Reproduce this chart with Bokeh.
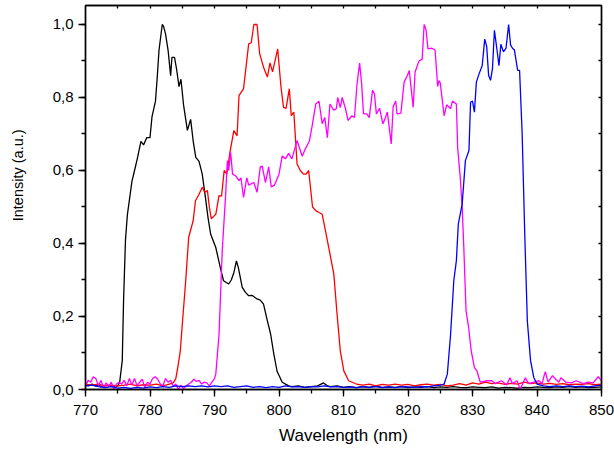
from bokeh.plotting import figure
from bokeh.models import Range1d, CustomJSTickFormatter, SingleIntervalTicker, FixedTicker, LinearAxis
from bokeh.embed import file_html
from bokeh.resources import INLINE

# ---------------- data ----------------
x_min, x_max = 770, 850
y_min, y_max = 0, 1.052
x_ticks_interval = 10
y_ticks_interval = 0.2
top_minor_ticks = [775, 780, 785, 790, 795, 800, 805, 810, 815, 820, 825, 830, 835, 840, 845]
right_minor_ticks = [0.1, 0.2, 0.3, 0.4, 0.5, 0.6, 0.7, 0.8, 0.9, 1.0]

black_wl = [770, 770.5, 771, 771.5, 772, 772.5, 773, 773.5, 774, 774.5, 775, 775.3, 775.7, 775.9,
            776.2, 776.5, 777.2, 777.6, 778.0, 778.3, 778.6, 779.0, 779.5, 780.0, 780.3, 780.85,
            781.1, 781.4, 781.9, 782.1, 782.4, 782.8, 783.2, 783.4, 783.8, 784.1, 784.5, 784.8,
            785.2, 785.8, 786.3, 786.7, 787.1, 787.6, 788.1, 788.6, 789.0, 789.4, 790.2, 790.9,
            791.4, 792.2, 792.6, 793.0, 793.4, 793.7, 794.3, 794.8, 795.3, 795.8, 796.6, 797.1,
            797.6, 798.2, 798.7, 799.2, 799.7, 800.5, 801.5, 802, 803, 804, 805, 806, 806.9, 807.5,
            808, 809, 810, 811, 812, 813, 814, 815, 816, 817, 818, 819, 820, 821, 822, 823, 824,
            825, 826, 827, 828, 829, 830, 831, 832, 833, 834, 835, 836, 837, 838, 839, 840, 841,
            842, 843, 844, 845, 846, 847, 848, 849, 850]
black_val = [0.012, 0.01, 0.015, 0.01, 0.012, 0.008, 0.01, 0.012, 0.01, 0.008, 0.01, 0.02, 0.079, 0.243,
             0.41, 0.48, 0.57, 0.6, 0.63, 0.655, 0.68, 0.67, 0.69, 0.69, 0.746, 0.79,
             0.85, 0.93, 1.0, 0.995, 0.975, 0.93, 0.86, 0.91, 0.91, 0.88, 0.83, 0.85,
             0.78, 0.71, 0.74, 0.68, 0.636, 0.625, 0.59, 0.525, 0.47, 0.426, 0.389, 0.334,
             0.298, 0.289, 0.3, 0.32, 0.352, 0.334, 0.28, 0.266, 0.257, 0.258, 0.248, 0.245,
             0.234, 0.188, 0.152, 0.097, 0.05, 0.02, 0.01, 0.008, 0.01, 0.006, 0.008, 0.01, 0.018, 0.01,
             0.008, 0.01, 0.006, 0.008, 0.005, 0.008, 0.006, 0.009, 0.005, 0.007, 0.006, 0.008, 0.005, 0.007,
             0.006, 0.008, 0.005, 0.007, 0.006, 0.008, 0.006, 0.005, 0.007, 0.006, 0.005, 0.007, 0.004,
             0.006, 0.005, 0.004, 0.006, 0.005, 0.007, 0.006, 0.005, 0.007, 0.006, 0.008, 0.006, 0.007,
             0.005, 0.006, 0.007]

red_wl = [770, 771, 772, 773, 774, 775, 776, 777, 778, 779, 780, 781, 782, 783, 783.6, 784.0, 784.3,
          784.7, 785.1, 785.5, 786.0, 786.7, 787.05, 787.6, 788.1, 788.5, 788.9, 789.2, 789.5, 790.2,
          790.7, 791.1, 791.5, 791.9, 792.4, 793.0, 793.5, 793.8, 794.5, 795.3, 795.7, 796.1, 796.6,
          797.0, 797.6, 798.2, 798.6, 799.0, 799.8, 800.3, 800.7, 801.1, 801.6, 801.9, 802.3, 802.8,
          803.3, 803.8, 804.2, 804.6, 805.2, 805.7, 806.2, 806.7, 807.2, 807.7, 808.5, 809.0, 809.5,
          810.05, 810.8, 812, 813, 814, 815, 816, 817, 818, 819, 820, 821, 822, 823, 824, 825, 826,
          827, 828, 829, 830, 831, 832, 833, 834, 835, 836, 837, 838, 839, 840, 841, 842, 843, 844,
          845, 846, 847, 848, 849, 850]
red_val = [0.015, 0.012, 0.015, 0.01, 0.012, 0.01, 0.012, 0.015, 0.01, 0.013, 0.012, 0.015, 0.01, 0.015,
           0.018, 0.03, 0.06, 0.106, 0.2, 0.289, 0.417, 0.463, 0.517, 0.535, 0.554, 0.54, 0.545, 0.5,
           0.468, 0.48, 0.531, 0.53, 0.6, 0.59, 0.65, 0.709, 0.695, 0.805, 0.824, 0.947, 0.95, 1.0, 1.0,
           0.92, 0.883, 0.856, 0.895, 0.87, 0.933, 0.83, 0.773, 0.77, 0.824, 0.75, 0.76, 0.618,
           0.6, 0.59, 0.59, 0.6, 0.5, 0.49, 0.485, 0.48, 0.435, 0.39, 0.316, 0.207, 0.106,
           0.051, 0.024, 0.015, 0.012, 0.015, 0.01, 0.014, 0.012, 0.015, 0.012, 0.014, 0.01, 0.013,
           0.015, 0.012, 0.014, 0.01, 0.012, 0.016, 0.012, 0.018, 0.015, 0.02, 0.016, 0.018, 0.014,
           0.017, 0.015, 0.02, 0.016, 0.018, 0.015, 0.017, 0.014, 0.016, 0.013, 0.015, 0.014, 0.016,
           0.013, 0.015]

magenta_wl = [770.0, 770.4, 770.8, 771.2, 771.6, 772.0, 772.4, 772.8, 773.2, 773.6, 774.0, 774.4, 774.8,
              775.2, 775.6, 776.0, 776.4, 776.8, 777.2, 777.6, 778.0, 778.4, 778.8, 779.2, 779.6, 780.0,
              780.4, 780.8, 781.2, 781.6, 782.0, 782.4, 782.8, 783.2, 783.6, 784.0, 784.4, 784.8, 785.2,
              785.6, 786.0, 786.4, 786.8, 787.2, 787.6, 788.0, 788.4, 788.8, 789.2, 789.6, 790.0, 790.2,
              790.7, 791.2, 791.7, 792.0, 792.2, 792.5, 792.8, 793.3, 793.8, 794.1, 794.5, 795.0, 795.3,
              796.1, 796.6, 797.1, 797.4, 797.9, 798.4, 798.8, 799.3, 800.0, 800.5, 801.0, 801.5, 802.0,
              802.8, 803.6, 804.1, 804.7, 805.1, 805.7, 806.2, 806.7, 807.1, 807.5, 807.9, 808.5, 808.9,
              809.1, 809.5, 809.8, 810.3, 810.7, 811.3, 811.7, 812.1, 812.5, 812.8, 813.1, 813.6, 814.0,
              814.5, 814.8, 815.1, 815.6, 816.1, 816.4, 816.8, 817.4, 817.7, 818.1, 818.3, 818.9, 819.4,
              819.9, 820.2, 820.8, 821.1, 821.7, 822.2, 822.5, 822.8, 823.1, 823.7, 824.2, 824.6, 824.8,
              825.0, 825.6, 826.0, 826.6, 826.9, 827.5, 827.7, 828.1, 828.4, 828.65, 829.0, 829.4, 829.8,
              830.3, 830.7, 831.2, 832.3, 833.0, 833.5, 834.5, 835.3, 835.8, 836.2, 836.9, 837.4, 838.2,
              838.7, 839.5, 840.3, 840.8, 841.1, 841.3, 841.7, 842.4, 842.9, 843.4, 843.7, 844.5, 845.3,
              846.1, 847.2, 847.9, 848.7, 849.5, 850.0]
magenta_val = [0.01, 0.025, 0.02, 0.035, 0.03, 0.01, 0.025, 0.005, 0.018, 0.008, 0.02, 0.0, 0.015,
               0.02, 0.015, 0.025, 0.01, 0.03, 0.012, 0.03, 0.01, 0.02, 0.028, 0.005, 0.02, 0.015,
               0.03, 0.035, 0.028, 0.015, 0.01, 0.03, 0.02, 0.025, 0.008, 0.015, 0.0, 0.012, 0.002,
               0.01, 0.015, 0.02, 0.028, 0.022, 0.025, 0.015, 0.02, 0.018, 0.01, 0.02, 0.03, 0.042,
               0.15, 0.38, 0.526, 0.627, 0.6, 0.65, 0.59, 0.585, 0.572, 0.58, 0.526, 0.58, 0.56,
               0.567, 0.54, 0.61, 0.612, 0.567, 0.61, 0.555, 0.56, 0.59, 0.64, 0.632, 0.647, 0.632,
               0.682, 0.639, 0.66, 0.68, 0.718, 0.782, 0.79, 0.728, 0.745, 0.69, 0.782, 0.765, 0.77,
               0.80, 0.772, 0.80, 0.77, 0.737, 0.75, 0.745, 0.837, 0.894, 0.84, 0.755, 0.755, 0.745,
               0.82, 0.81, 0.755, 0.77, 0.728, 0.74, 0.76, 0.673, 0.775, 0.79, 0.755, 0.757, 0.842,
               0.86, 0.874, 0.773, 0.87, 0.9, 0.905, 1.0, 0.985, 0.933, 0.935, 0.93, 0.83, 0.846,
               0.84, 0.75, 0.78, 0.769, 0.79, 0.782, 0.663, 0.581, 0.5, 0.39, 0.216, 0.17, 0.106,
               0.06, 0.05, 0.02, 0.024, 0.024, 0.016, 0.024, 0.012, 0.032, 0.016, 0.024, 0.001, 0.032,
               0.016, 0.02, 0.024, 0.016, 0.038, 0.049, 0.02, 0.038, 0.028, 0.02, 0.032, 0.02, 0.018,
               0.024, 0.016, 0.02, 0.018, 0.035, 0.024]

blue_wl = [770, 771, 772, 773, 774, 775, 776, 777, 778, 779, 780, 781, 782, 783, 784, 785, 786, 787,
           788, 789, 790, 791, 792, 793, 794, 795, 796, 797, 798, 799, 800, 801, 802, 803, 804, 805,
           806, 807, 808, 809, 810, 811, 812, 813, 814, 815, 816, 817, 818, 819, 820, 821, 822, 823,
           824, 825, 825.6, 826.1, 826.6, 827.1, 827.5, 827.8, 828.4, 828.9, 829.45, 829.7, 830.0,
           830.3, 830.6, 831.0, 831.5, 831.9, 832.2, 832.5, 832.8, 833.1, 833.4, 833.8, 834.1, 834.4,
           834.8, 835.2, 835.6, 835.9, 836.2, 836.5, 837.0, 837.3, 837.7, 838.1, 838.5, 839.0, 839.5,
           840.0, 841, 842, 843, 844, 845, 846, 847, 848, 849, 850]
blue_val = [0.01, 0.012, 0.008, 0.005, 0.008, 0.004, 0.006, 0.003, 0.006, 0.004, 0.007, 0.005, 0.008,
            0.006, 0.01, 0.008, 0.01, 0.008, 0.01, 0.007, 0.01, 0.008, 0.01, 0.006, 0.008, 0.01, 0.006,
            0.008, 0.005, 0.008, 0.006, 0.01, 0.007, 0.008, 0.006, 0.008, 0.007, 0.01, 0.007, 0.008,
            0.006, 0.007, 0.005, 0.008, 0.006, 0.008, 0.006, 0.007, 0.005, 0.008, 0.007, 0.006, 0.008,
            0.007, 0.01, 0.012, 0.015, 0.042, 0.15, 0.298, 0.353, 0.453, 0.508, 0.627, 0.655, 0.787,
            0.79, 0.76, 0.842, 0.864, 0.887, 0.96, 0.94, 0.86, 0.847, 0.88, 0.984, 0.93, 0.887, 0.946,
            0.925, 0.935, 1.0, 0.944, 0.935, 0.93, 0.874, 0.874, 0.7, 0.426, 0.188, 0.079, 0.033,
            0.015, 0.01, 0.008, 0.01, 0.008, 0.01, 0.008, 0.009, 0.007, 0.01, 0.012]

# ---------------- figure ----------------
FONT = "Liberation Sans"

p = figure(frame_width=516, frame_height=384,
           x_range=Range1d(x_min, x_max), y_range=Range1d(y_min, y_max),
           output_backend="svg", toolbar_location=None,
           min_border_left=85, min_border_top=5, min_border_right=13, min_border_bottom=0)
p.grid.visible = False
p.outline_line_color = "black"
p.outline_line_width = 1.3

# keep handles on the main (bottom / left) axes before extra axes are added
xa = p.below[0]
ya = p.left[0]

series = [(black_wl, black_val, "black"), (red_wl, red_val, "#ff0000"),
          (magenta_wl, magenta_val, "#ff00ff"), (blue_wl, blue_val, "#0000ff")]
for wl, val, col in series:
    p.line(wl, val, line_color=col, line_width=1.3)

xa.ticker = SingleIntervalTicker(interval=x_ticks_interval, num_minor_ticks=2)
ya.ticker = SingleIntervalTicker(interval=y_ticks_interval, num_minor_ticks=2)
ya.formatter = CustomJSTickFormatter(code="return tick.toFixed(1).replace('.', ',');")

for ax in (xa, ya):
    ax.axis_line_color = "black"
    ax.axis_line_width = 1.5
    ax.major_tick_line_color = "black"
    ax.minor_tick_line_color = "black"
    ax.major_tick_line_width = 1.3
    ax.minor_tick_line_width = 1.3
    ax.major_tick_in = 0
    ax.major_tick_out = 7
    ax.minor_tick_in = 0
    ax.minor_tick_out = 4
    ax.major_label_text_font = FONT
    ax.major_label_text_font_size = "15px"
    ax.major_label_text_color = "black"
    ax.axis_label_text_font = FONT
    ax.axis_label_text_font_style = "normal"
    ax.axis_label_text_color = "black"

xa.axis_label = "Wavelength (nm)"
xa.axis_label_text_font_size = "17px"
xa.major_label_standoff = 8
xa.axis_label_standoff = 8

# leading no-break spaces move the centred title up, as in the reference
ya.axis_label = "\u00a0" * 11 + "Intensity (a.u.)"
ya.axis_label_text_font_size = "14.5px"
ya.major_label_standoff = 5
ya.axis_label_standoff = 24

# top and right frame edges as label-less axes with small inward ticks
top = LinearAxis(ticker=FixedTicker(ticks=[], minor_ticks=top_minor_ticks),
                 major_tick_in=0, major_tick_out=0, minor_tick_in=3, minor_tick_out=0,
                 major_label_standoff=0, axis_line_color="black", axis_line_width=1.5,
                 minor_tick_line_color="black", minor_tick_line_width=1.3)
right = LinearAxis(ticker=FixedTicker(ticks=[], minor_ticks=right_minor_ticks),
                   major_tick_in=0, major_tick_out=0, minor_tick_in=3, minor_tick_out=0,
                   major_label_standoff=0, axis_line_color="black", axis_line_width=1.5,
                   minor_tick_line_color="black", minor_tick_line_width=1.3)
p.add_layout(top, "above")
p.add_layout(right, "right")

open("out.html", "w").write(file_html(p, INLINE))
